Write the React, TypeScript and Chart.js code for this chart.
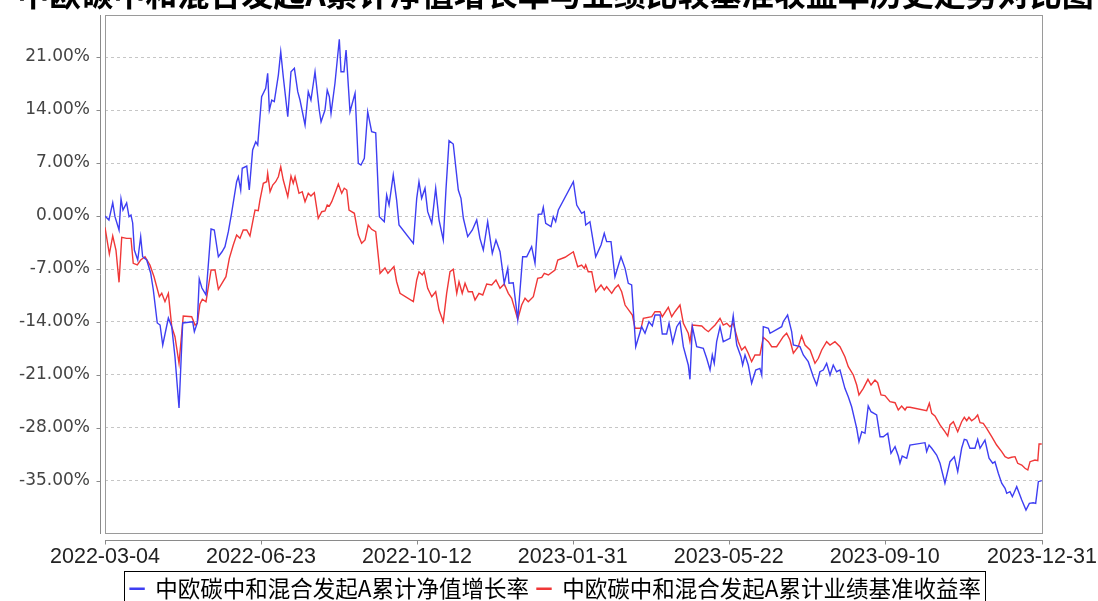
import React, { useEffect, useRef } from "react";
import { Chart, registerables } from "chart.js";

Chart.register(...registerables);

const TITLE = "中欧碳中和混合发起A累计净值增长率与业绩比较基准收益率历史走势对比图";
const SERIES_NAMES = ["中欧碳中和混合发起A累计净值增长率", "中欧碳中和混合发起A累计业绩基准收益率"];
const SERIES_COLORS = ["rgb(62,62,242)", "rgb(240,55,55)"];

// x axis: days since 2022-03-04
const X_MIN = 0;
const X_MAX = 667;
const X_TICK_DAYS = [0, 111, 222, 333, 444, 555, 667];
const X_TICK_LABELS = ["2022-03-04", "2022-06-23", "2022-10-12", "2023-01-31", "2023-05-22", "2023-09-10", "2023-12-31"];

// y axis (percent)
const Y_MIN = -41.87;
const Y_MAX = 26.55;
const Y_TICKS = [-35, -28, -21, -14, -7, 0, 7, 14, 21];

const navDays = [
  0, 2.8, 5.5, 7.1, 10.0, 11.4, 12.8, 15.4, 17.1, 18.5,
  19.7, 20.9, 23.3, 25.4, 26.8, 29.7, 32.5, 34.4, 37.2, 39.2,
  41.1, 45.1, 47.5, 49.8, 52.7, 55.3, 62.4, 63.6, 65.7, 67.1,
  69.0, 71.9, 75.5, 77.8, 80.7, 83.3, 85.4, 87.8, 90.0, 93.7,
  94.9, 96.6, 97.7, 100.9, 102.7, 105.1, 107.3, 108.7, 111.5, 114.4,
  115.8, 117.0, 118.7, 120.5, 123.4, 125.1, 126.9, 130.1, 132.4, 134.8,
  137.2, 138.8, 142.4, 144.7, 146.6, 149.5, 152.5, 153.8, 156.6, 158.2,
  159.7, 160.9, 163.7, 166.8, 168.0, 170.1, 171.6, 174.4, 178.0, 180.3,
  182.2, 184.6, 187.0, 189.8, 192.7, 195.3, 198.8, 200.5, 202.2, 205.2,
  207.6, 209.3, 219.5, 221.9, 223.5, 225.4, 227.8, 229.7, 232.6, 235.4,
  237.8, 240.8, 242.7, 244.9, 247.9, 251.5, 253.4, 255.1, 258.2, 261.5,
  264.6, 266.9, 269.3, 272.4, 275.7, 278.3, 281.2, 284.2, 286.7, 287.6,
  290.6, 293.8, 297.3, 300.2, 303.7, 306.1, 308.4, 310.9, 312.0, 313.7,
  317.5, 319.1, 320.8, 322.7, 333.4, 335.8, 339.3, 341.2, 342.2, 345.2,
  349.3, 353.1, 355.4, 357.1, 360.2, 363.0, 367.3, 370.2, 372.5, 374.9,
  377.8, 382.0, 384.4, 387.2, 389.6, 391.5, 395.1, 396.7, 399.8, 401.5,
  404.1, 407.0, 409.3, 411.7, 415.2, 416.4, 418.1, 421.2, 425.9, 428.3,
  430.7, 432.3, 433.7, 435.4, 437.8, 440.1, 444.9, 447.2, 449.7, 452.7,
  453.9, 455.6, 457.9, 460.3, 463.2, 466.2, 467.5, 468.6, 472.2, 473.4,
  481.7, 482.8, 485.9, 488.8, 490.0, 494.7, 497.1, 500.6, 504.2, 506.6,
  508.9, 511.3, 513.7, 516.1, 518.4, 520.8, 523.2, 526.7, 529.1, 531.5,
  535.1, 536.7, 538.7, 541.0, 543.3, 545.3, 549.3, 551.7, 554.0, 557.2,
  559.5, 562.4, 564.7, 565.9, 567.5, 570.7, 573.0, 583.7, 584.9, 586.6,
  588.5, 592.0, 594.4, 597.9, 601.5, 604.6, 607.0, 609.8, 611.7, 613.4,
  615.7, 619.3, 621.2, 622.9, 626.4, 629.3, 631.9, 633.5, 635.9, 638.3,
  640.7, 641.9, 644.2, 645.9, 649.0, 652.6, 655.6, 658.0, 660.8, 662.5,
  664.4, 666.8,
];

const navGrowth = [
  0, -0.53, 1.76, -0.09, -1.85, 2.25, 0.79, 1.72, -0.09, 0.13,
  -0.92, -4.49, -5.81, -2.73, -5.38, -5.81, -7.53, -9.77, -14.13, -14.40,
  -17.04, -13.47, -14.62, -18.58, -25.36, -14.13, -13.96, -15.28, -14.13, -8.32,
  -9.51, -10.43, -1.72, -1.85, -5.38, -4.72, -4.05, -2.07, 0.26, 4.53,
  5.19, 3.43, 6.30, 6.60, 3.43, 8.72, 9.81, 9.38, 15.76, 16.87,
  18.85, 14.00, 15.32, 15.10, 18.62, 21.70, 18.40, 13.12, 19.06, 19.51,
  16.42, 15.32, 12.02, 16.42, 15.32, 19.06, 14.00, 12.45, 14.00, 16.64,
  15.76, 13.56, 17.53, 23.34, 19.06, 19.06, 21.93, 13.78, 16.21, 6.96,
  6.74, 7.62, 13.78, 11.13, 11.00, -0.09, -0.75, 2.77, 1.45, 5.42,
  2.11, -1.19, -3.61, 2.34, 4.53, 2.34, 3.66, 0.57, -0.96, 3.66,
  -0.53, -3.17, 3.43, 9.95, 9.51, 3.43, 2.34, -0.30, -2.73, -1.85,
  -0.53, -2.95, -4.49, -0.75, -4.93, -3.17, -4.72, -8.89, -6.91, -8.89,
  -8.81, -13.64, -5.38, -5.38, -4.05, -6.25, 0.22, 0.26, 1.15, -0.96,
  -1.41, -0.09, -0.75, 0.79, 4.53, 1.45, 0.36, 0.57, -1.19, -0.75,
  -5.38, -3.83, -2.29, -3.39, -3.39, -8.02, -5.38, -6.91, -8.89, -9.11,
  -17.26, -14.62, -15.49, -13.96, -14.53, -13.08, -13.08, -15.59, -15.59, -14.17,
  -16.73, -14.62, -13.96, -17.26, -19.68, -21.57, -14.62, -17.26, -17.47, -18.79,
  -20.34, -18.36, -19.46, -16.60, -14.62, -16.60, -16.15, -13.17, -17.04, -18.58,
  -19.68, -18.36, -19.68, -22.10, -20.34, -20.12, -21.00, -14.62, -14.83, -15.49,
  -14.62, -13.96, -13.08, -15.28, -17.04, -17.26, -18.36, -19.24, -21.23, -22.32,
  -20.57, -20.34, -19.46, -21.00, -19.68, -20.57, -20.34, -22.76, -23.87, -25.19,
  -28.04, -29.81, -28.49, -28.70, -25.10, -25.85, -26.28, -29.15, -29.15, -28.70,
  -31.34, -30.47, -31.70, -32.66, -31.70, -32.00, -30.25, -29.94, -31.13, -30.25,
  -30.68, -31.57, -32.66, -35.30, -32.45, -31.79, -33.77, -30.68, -29.49, -29.59,
  -30.68, -30.68, -29.49, -30.68, -29.59, -32.00, -32.66, -32.45, -33.98, -35.30,
  -35.97, -36.63, -36.41, -37.07, -35.75, -37.51, -38.83, -37.95, -37.87, -37.95,
  -35.09, -34.96,
];

const benchDays = [
  0, 3.1, 5.5, 7.8, 10.0, 11.9, 15.4, 18.5, 20.1, 23.0,
  25.4, 28.5, 32.0, 34.9, 36.8, 38.7, 40.4, 42.7, 45.1, 47.5,
  49.8, 52.7, 55.7, 61.7, 64.1, 65.7, 67.6, 69.3, 71.9, 75.5,
  78.3, 80.7, 86.1, 88.5, 91.3, 93.7, 96.1, 98.4, 100.9, 103.2,
  105.6, 106.8, 109.1, 110.3, 112.7, 115.1, 115.8, 117.5, 119.4, 121.5,
  123.4, 125.1, 126.9, 130.1, 132.4, 134.0, 135.3, 138.1, 140.4, 142.4,
  144.7, 146.6, 149.0, 151.8, 154.3, 156.6, 158.2, 159.7, 161.4, 163.7,
  166.1, 168.5, 170.3, 172.1, 173.7, 177.5, 180.3, 182.7, 185.1, 187.4,
  189.8, 192.7, 195.8, 199.3, 201.4, 205.7, 207.6, 210.0, 219.5, 221.9,
  223.5, 225.9, 227.3, 229.7, 232.6, 235.4, 237.8, 240.8, 243.2, 245.6,
  247.9, 250.4, 252.0, 254.3, 256.3, 258.6, 261.5, 263.4, 266.2, 268.9,
  271.7, 275.3, 278.3, 281.2, 284.2, 287.1, 289.5, 293.8, 296.6, 299.0,
  301.3, 304.9, 308.0, 310.9, 312.7, 315.6, 320.3, 322.3, 327.5, 333.4,
  336.5, 339.3, 341.2, 342.2, 344.0, 346.5, 349.3, 353.1, 355.4, 357.1,
  360.7, 363.0, 365.4, 367.8, 370.2, 375.4, 377.3, 381.6, 383.2, 389.2,
  391.5, 395.1, 396.7, 401.0, 403.4, 405.7, 409.3, 411.7, 415.2, 416.4,
  418.1, 424.8, 427.2, 429.5, 431.9, 434.3, 437.8, 440.1, 442.6, 444.9,
  447.2, 450.8, 453.2, 455.6, 457.9, 460.3, 462.7, 466.2, 468.6, 472.2,
  474.6, 478.1, 480.5, 482.8, 485.2, 487.6, 490.0, 493.5, 495.9, 498.3,
  501.9, 505.4, 507.8, 510.2, 513.7, 516.1, 519.6, 523.2, 526.7, 529.1,
  532.7, 535.1, 536.7, 539.8, 543.1, 545.3, 548.1, 550.0, 552.4, 555.2,
  558.8, 562.4, 564.7, 567.1, 569.5, 570.7, 573.0, 584.9, 586.8, 588.5,
  590.8, 594.4, 597.9, 599.9, 601.5, 603.9, 607.0, 609.8, 611.7, 613.4,
  615.0, 616.9, 619.3, 621.2, 622.9, 625.2, 627.6, 631.2, 634.7, 638.3,
  640.7, 643.0, 645.4, 647.8, 649.7, 652.6, 654.9, 656.9, 658.5, 662.0,
  664.0, 664.9, 666.8,
];

const benchReturn = [
  -1.49, -5.02, -2.64, -4.49, -8.76, -2.81, -2.95, -2.95, -6.25, -6.47,
  -5.81, -5.38, -6.47, -8.02, -9.34, -10.66, -10.21, -11.32, -10.21, -14.62,
  -15.94, -19.46, -13.21, -13.30, -14.40, -14.17, -11.62, -11.00, -11.32, -7.13,
  -7.13, -9.68, -8.02, -5.59, -3.83, -2.51, -2.95, -1.85, -1.85, -2.64,
  -0.30, 0.79, 0.70, 2.11, 4.32, 4.53, 5.64, 3.21, 4.09, 4.53,
  5.19, 6.51, 4.75, 2.55, 5.28, 4.32, 5.19, 3.00, 3.21, 1.89,
  3.00, 2.64, 3.08, -0.30, 0.57, 0.66, 1.45, 1.32, 1.89, 3.00,
  4.23, 3.00, 3.66, 3.43, 0.79, 0.36, -2.51, -3.61, -3.17, -1.19,
  -1.76, -2.07, -7.57, -6.87, -7.57, -6.67, -8.68, -10.21, -11.32, -8.45,
  -7.36, -7.79, -7.36, -9.55, -10.66, -10.00, -12.42, -13.96, -10.21, -7.36,
  -7.04, -10.21, -8.68, -10.21, -8.89, -10.00, -10.00, -11.09, -10.21, -10.43,
  -8.98, -9.11, -8.45, -9.55, -8.98, -10.21, -10.87, -13.64, -11.76, -10.87,
  -11.32, -10.66, -8.23, -8.10, -7.57, -7.79, -7.13, -5.81, -5.45, -4.72,
  -6.70, -6.47, -6.91, -6.47, -7.36, -7.36, -10.00, -9.11, -9.77, -9.34,
  -10.21, -9.55, -9.11, -10.00, -11.76, -13.08, -14.83, -14.83, -13.51, -13.30,
  -12.64, -12.64, -13.30, -12.06, -13.30, -12.64, -11.76, -14.17, -15.49, -16.60,
  -14.40, -14.53, -14.96, -15.28, -14.83, -14.40, -13.51, -14.40, -14.17, -14.62,
  -14.17, -16.60, -17.70, -17.26, -18.13, -19.24, -18.36, -18.36, -16.02, -16.60,
  -17.26, -17.26, -16.60, -15.94, -15.49, -16.38, -18.13, -17.26, -15.85, -17.04,
  -17.70, -19.46, -18.79, -17.70, -16.60, -17.04, -16.60, -17.26, -18.58, -19.90,
  -21.00, -22.32, -23.64, -22.76, -21.57, -22.32, -21.66, -22.02, -23.64, -23.73,
  -24.53, -24.66, -25.62, -25.10, -25.62, -25.27, -25.27, -25.72, -24.74, -26.06,
  -26.42, -27.60, -28.49, -29.06, -27.60, -27.17, -28.49, -27.17, -26.59, -27.04,
  -26.59, -27.04, -26.72, -26.28, -27.30, -27.38, -28.04, -29.15, -30.25, -31.13,
  -31.79, -32.00, -31.87, -31.79, -32.66, -32.89, -33.32, -33.55, -32.45, -32.23,
  -32.32, -30.11, -30.11,
];

const CANVAS_W = 1098;
const CANVAS_H = 635;
const TOP_CUT = 25;

const framePlugin = {
  id: "jfFrame",
  beforeDatasetsDraw(chart: any) {
    const { ctx, chartArea: a } = chart;
    ctx.save();
    ctx.strokeStyle = "#9a9a9a";
    ctx.lineWidth = 1;
    const l = Math.round(a.left) + 0.5;
    const t = Math.round(a.top) + 0.5;
    ctx.strokeRect(l, t, Math.round(a.right) - Math.round(a.left), Math.round(a.bottom) - Math.round(a.top));
    ctx.restore();
  },
  afterDraw(chart: any) {
    const { ctx, chartArea: a, scales } = chart;
    ctx.save();
    ctx.strokeStyle = "#8a8a8a";
    ctx.lineWidth = 1;
    // y axis line (offset from plot)
    const yx = Math.round(a.left) - 5 + 0.5;
    ctx.beginPath();
    ctx.moveTo(yx, Math.round(a.top));
    ctx.lineTo(yx, Math.round(a.bottom) + 1);
    for (const tk of scales.y.ticks) {
      const py = Math.round(scales.y.getPixelForValue(tk.value)) + 0.5;
      ctx.moveTo(yx - 4, py);
      ctx.lineTo(yx, py);
    }
    ctx.stroke();
    // x axis line (offset from plot)
    const xy = Math.round(a.bottom) + 7 + 0.5;
    ctx.beginPath();
    ctx.moveTo(Math.round(a.left), xy);
    ctx.lineTo(Math.round(a.right) + 1, xy);
    for (const tk of scales.x.ticks) {
      const px = Math.round(scales.x.getPixelForValue(tk.value)) + 0.5;
      ctx.moveTo(px, xy);
      ctx.lineTo(px, xy + 4);
    }
    ctx.stroke();
    // legend frame
    const lg = chart.legend;
    if (lg && lg.legendHitBoxes && lg.legendHitBoxes.length) {
      const hb = lg.legendHitBoxes;
      const left = Math.min(...hb.map((h: any) => h.left));
      const right = Math.max(...hb.map((h: any) => h.left + h.width));
      const cy = hb[0].top + hb[0].height / 2;
      ctx.strokeStyle = "#000";
      ctx.strokeRect(Math.round(left - 6) + 0.5, Math.round(cy - 18) + 0.5, Math.round(right - left + 10), 36);
    }
    ctx.restore();
  },
};

export default function App() {
  const canvasRef = useRef<HTMLCanvasElement | null>(null);

  useEffect(() => {
    const canvas = canvasRef.current;
    if (!canvas) return;
    const chart = new Chart(canvas, {
      type: "line",
      data: {
        datasets: [
          {
            label: SERIES_NAMES[0],
            data: navDays.map((d, i) => ({ x: d, y: navGrowth[i] })),
            borderColor: SERIES_COLORS[0],
            backgroundColor: SERIES_COLORS[0],
            borderWidth: 1.4,
            pointRadius: 0,
            tension: 0,
          },
          {
            label: SERIES_NAMES[1],
            data: benchDays.map((d, i) => ({ x: d, y: benchReturn[i] })),
            borderColor: SERIES_COLORS[1],
            backgroundColor: SERIES_COLORS[1],
            borderWidth: 1.4,
            pointRadius: 0,
            tension: 0,
          },
        ],
      },
      options: {
        animation: false,
        responsive: false,
        events: [],
        layout: { padding: { left: 13, right: 0, top: 0, bottom: 0 } },
        plugins: {
          title: {
            display: true,
            text: TITLE,
            color: "#000",
            font: { family: "'Noto Sans CJK SC', sans-serif", size: 32, weight: "bold", lineHeight: 1 },
            padding: { top: 3.3, bottom: 4.7 },
          },
          legend: {
            position: "bottom",
            labels: {
              font: { family: "'Noto Sans CJK SC', sans-serif", size: 22.5 },
              color: "#000",
              boxWidth: 14,
              boxHeight: 1,
              padding: 8,
            },
          },
          tooltip: { enabled: false },
        },
        scales: {
          x: {
            type: "linear",
            min: X_MIN,
            max: X_MAX,
            afterBuildTicks: (s: any) => {
              s.ticks = X_TICK_DAYS.map((v) => ({ value: v }));
            },
            afterFit: (s: any) => {
              s.height = 36.5;
              s.paddingLeft = 0;
              s.paddingRight = 56;
            },
            ticks: {
              autoSkip: false,
              maxRotation: 0,
              padding: 3,
              color: "#222",
              font: { family: "'Liberation Sans', Arial, sans-serif", size: 21.5 },
              callback: (_v: any, i: number) => X_TICK_LABELS[i],
            },
            grid: { display: false },
            border: { display: false },
          },
          y: {
            type: "linear",
            min: Y_MIN,
            max: Y_MAX,
            afterBuildTicks: (s: any) => {
              s.ticks = Y_TICKS.map((v) => ({ value: v }));
            },
            afterFit: (s: any) => {
              s.width = 92;
            },
            ticks: {
              padding: 15,
              color: "#444",
              font: { family: "'DejaVu Sans', sans-serif", size: 17 },
              callback: (v: any) => Number(v).toFixed(2) + "%",
            },
            grid: { color: "#c6c6c6", lineWidth: 1, drawTicks: false },
            border: { display: false, dash: [3, 3] },
          },
        },
      },
      plugins: [framePlugin],
    });
    return () => chart.destroy();
  }, []);

  return (
    <div style={{ position: "fixed", left: 0, top: 0, right: 0, bottom: 0, overflow: "hidden", background: "#fff" }}>
      <div style={{ position: "absolute", left: 0, top: -TOP_CUT, width: CANVAS_W, height: CANVAS_H }}>
        <canvas ref={canvasRef} width={CANVAS_W} height={CANVAS_H} style={{ display: "block" }} />
      </div>
    </div>
  );
}
